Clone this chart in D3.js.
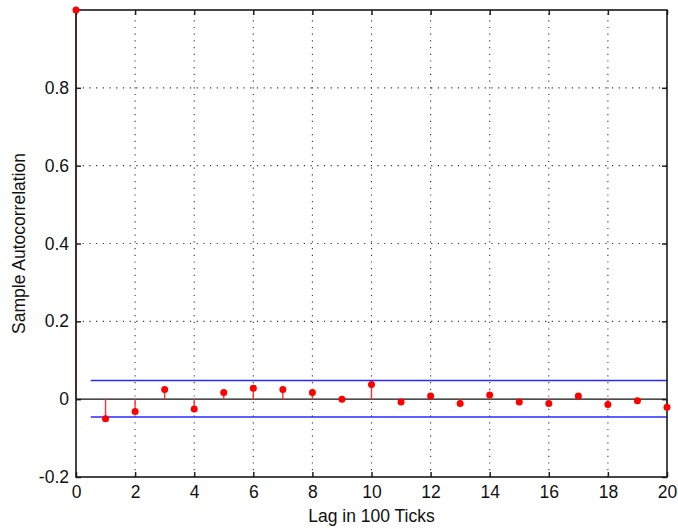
<!DOCTYPE html>
<html>
<head>
<meta charset="utf-8">
<script src="https://cdn.jsdelivr.net/npm/d3@7"></script>
<style>
  html, body { margin: 0; padding: 0; background: #fff; }
  svg { display: block; }
  text { font-family: "Liberation Sans", Arial, sans-serif; fill: #111; }
</style>
</head>
<body>
<svg id="chart" width="678" height="529"></svg>
<script>
// Sample autocorrelation by lag
const lags = [0,1,2,3,4,5,6,7,8,9,10,11,12,13,14,15,16,17,18,19,20];
const acf = [1.0, -0.050, -0.032, 0.025, -0.025, 0.017, 0.028, 0.025, 0.017, 0.0, 0.038,
             -0.007, 0.008, -0.011, 0.011, -0.007, -0.011, 0.008, -0.014, -0.004, -0.021];
// Confidence bounds drawn from lag 0.5 to the last lag
const boundUpper = 0.048;
const boundLower = -0.046;
const boundStart = 0.5;

const xTicks = [0,2,4,6,8,10,12,14,16,18,20];
const yTicks = [-0.2, 0, 0.2, 0.4, 0.6, 0.8];
const yTickLabels = ["-0.2", "0", "0.2", "0.4", "0.6", "0.8"];
const xLabel = "Lag in 100 Ticks";
const yLabel = "Sample Autocorrelation";

const svg = d3.select("#chart");
const m = { left: 76, right: 667, top: 10, bottom: 477 };

const x = d3.scaleLinear().domain([0, 20]).range([m.left, m.right]);
const y = d3.scaleLinear().domain([-0.2, 1]).range([m.bottom, m.top]);

// dotted grid
const grid = svg.append("g").attr("stroke", "#333").attr("stroke-width", 1.1)
  .attr("stroke-dasharray", "1.2 5.5");
grid.selectAll("line.gx").data(xTicks.filter(d => d > 0 && d < 20)).join("line")
  .attr("x1", d => x(d)).attr("x2", d => x(d))
  .attr("y1", m.bottom).attr("y2", m.top);
grid.selectAll("line.gy").data(yTicks.filter(d => d > -0.2 && d !== 0)).join("line")
  .attr("class", "gy")
  .attr("x1", m.left).attr("x2", m.right)
  .attr("y1", d => y(d)).attr("y2", d => y(d));

// axes with inward ticks (bottom/top, left/right)
const tickLen = 5;
const axB = d3.axisBottom(x).tickValues(xTicks).tickSize(-tickLen).tickPadding(9).tickFormat(d3.format("d"));
const axT = d3.axisTop(x).tickValues(xTicks).tickSize(-tickLen).tickFormat("");
const axL = d3.axisLeft(y).tickValues(yTicks).tickSize(-tickLen).tickPadding(7)
  .tickFormat((d, i) => yTickLabels[i]);
const axR = d3.axisRight(y).tickValues(yTicks).tickSize(-tickLen).tickFormat("");

function style(g) {
  g.select(".domain").remove();
  g.selectAll(".tick line").attr("stroke", "#222").attr("stroke-width", 1.5);
  g.selectAll(".tick text").attr("font-size", 17.5).attr("fill", "#111")
    .style("font-family", '"Liberation Sans", Arial, sans-serif');
}
svg.append("g").attr("transform", `translate(0,${m.bottom})`).call(axB).call(style);
svg.append("g").attr("transform", `translate(0,${m.top})`).call(axT).call(style);
svg.append("g").attr("transform", `translate(${m.left},0)`).call(axL).call(style);
svg.append("g").attr("transform", `translate(${m.right},0)`).call(axR).call(style);

// zero baseline
svg.append("line")
  .attr("x1", m.left).attr("x2", m.right)
  .attr("y1", y(0)).attr("y2", y(0))
  .attr("stroke", "#111").attr("stroke-width", 1.2);

// confidence bounds
[boundUpper, boundLower].forEach(b => {
  svg.append("line")
    .attr("x1", x(boundStart)).attr("x2", x(20))
    .attr("y1", y(b)).attr("y2", y(b))
    .attr("stroke", "#2a2aff").attr("stroke-width", 1.6);
});

// stems
svg.append("g").selectAll("line").data(lags).join("line")
  .attr("x1", d => x(d)).attr("x2", d => x(d))
  .attr("y1", y(0)).attr("y2", (d, i) => y(acf[i]))
  .attr("stroke", "#ff3030").attr("stroke-width", 1.4);

// plot box
svg.append("rect")
  .attr("x", m.left).attr("y", m.top)
  .attr("width", m.right - m.left).attr("height", m.bottom - m.top)
  .attr("fill", "none").attr("stroke", "#1a1a1a").attr("stroke-width", 1.6);

// markers
svg.append("g").selectAll("circle").data(lags).join("circle")
  .attr("cx", d => x(d)).attr("cy", (d, i) => y(acf[i]))
  .attr("r", 3.5).attr("fill", "#ff0000");

// axis titles
svg.append("text")
  .attr("x", (m.left + m.right) / 2).attr("y", 522)
  .attr("text-anchor", "middle").attr("font-size", 17.5)
  .text(xLabel);
svg.append("text")
  .attr("transform", `translate(25,${(m.top + m.bottom) / 2}) rotate(-90)`)
  .attr("text-anchor", "middle").attr("font-size", 17.5)
  .text(yLabel);
</script>
</body>
</html>
